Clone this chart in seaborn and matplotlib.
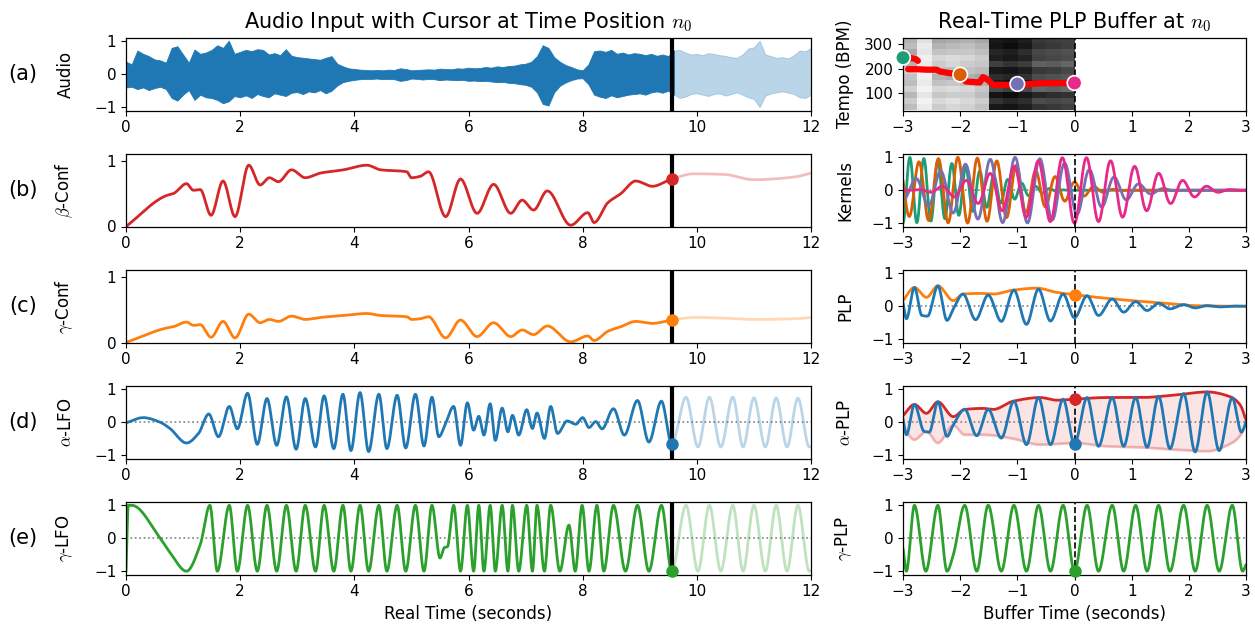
import numpy as np
import matplotlib
matplotlib.use("Agg")
import matplotlib.pyplot as plt
import seaborn as sns

# ---------------- data ----------------
n0 = 9.56  # cursor position (s)

audio_t = np.round(np.arange(0, 121) * 0.1, 2)
audio_upper = [0.38, 0.30, 0.72, 0.62, 0.55, 0.45, 0.42, 0.35, 0.80, 0.85,
               0.60, 0.35, 0.75, 0.62, 0.66, 0.74, 0.88, 0.80, 1.02, 0.62,
               0.68, 0.74, 0.70, 0.76, 0.74, 0.60, 0.64, 0.58, 0.76, 0.56,
               0.52, 0.50, 0.48, 0.46, 0.44, 0.50, 0.55, 0.32, 0.24, 0.18,
               0.16, 0.14, 0.13, 0.12, 0.13, 0.12, 0.14, 0.13, 0.18, 0.16,
               0.12, 0.13, 0.14, 0.15, 0.14, 0.17, 0.16, 0.15, 0.18, 0.17,
               0.20, 0.18, 0.19, 0.22, 0.20, 0.24, 0.22, 0.25, 0.26, 0.30,
               0.32, 0.38, 0.55, 0.88, 0.80, 0.52, 0.38, 0.28, 0.22, 0.15,
               0.12, 0.30, 0.70, 0.72, 0.68, 0.74, 0.62, 0.66, 0.60, 0.64,
               0.62, 0.58, 0.62, 0.56, 0.60, 0.55, 0.72, 0.74, 0.66, 0.60,
               0.62, 0.58, 0.64, 0.62, 0.58, 0.56, 0.52, 0.50, 0.60, 0.78,
               0.82, 1.02, 0.60, 0.55, 0.50, 0.52, 0.48, 0.58, 0.72, 0.70, 0.80]
audio_lower = [-0.40, -0.38, -0.45, -0.40, -0.48, -0.42, -0.38, -0.45, -0.72, -0.80,
               -0.62, -0.48, -0.78, -0.62, -0.70, -0.72, -0.78, -0.88, -0.82, -0.66,
               -0.70, -0.64, -0.72, -0.60, -0.66, -0.70, -0.58, -0.62, -0.66, -0.56,
               -0.54, -0.60, -0.52, -0.55, -0.48, -0.58, -0.50, -0.34, -0.24, -0.20,
               -0.17, -0.15, -0.14, -0.14, -0.13, -0.15, -0.14, -0.15, -0.20, -0.18,
               -0.13, -0.14, -0.16, -0.14, -0.15, -0.18, -0.16, -0.17, -0.18, -0.17,
               -0.20, -0.19, -0.21, -0.20, -0.22, -0.24, -0.23, -0.26, -0.27, -0.30,
               -0.32, -0.38, -0.55, -0.90, -0.95, -0.55, -0.35, -0.25, -0.18, -0.13,
               -0.12, -0.30, -0.62, -0.68, -0.72, -0.64, -0.70, -0.66, -0.62, -0.60,
               -0.58, -0.62, -0.55, -0.52, -0.56, -0.50, -0.62, -0.72, -0.68, -0.60,
               -0.58, -0.62, -0.66, -0.60, -0.58, -0.65, -0.60, -0.55, -0.62, -0.70,
               -0.75, -1.00, -0.65, -0.58, -0.55, -0.52, -0.56, -0.60, -0.70, -0.72, -0.62]

conf_t = [0, 0.71, 0.83, 1.06, 1.18, 1.3, 1.49, 1.7, 1.91, 2.15,
          2.35, 2.51, 2.67, 2.9, 3.14, 3.4, 3.81, 4.22, 4.46, 4.92,
          5.0, 5.15, 5.3, 5.6, 5.86, 6.15, 6.44, 6.74, 6.94, 7.14,
          7.38, 7.79, 8.09, 8.2, 8.44, 8.67, 8.93, 9.22, 9.56,
          9.95, 10.48, 11.0, 11.7, 12.0]
beta_conf = [0, 0.47, 0.5, 0.65, 0.55, 0.56, 0.17, 0.69, 0.15, 0.93,
             0.63, 0.74, 0.68, 0.86, 0.74, 0.81, 0.86, 0.93, 0.86, 0.83,
             0.74, 0.76, 0.83, 0.15, 0.72, 0.2, 0.64, 0.2, 0.4, 0.25,
             0.54, 0.02, 0.21, 0.06, 0.36, 0.5, 0.69, 0.61, 0.72,
             0.8, 0.79, 0.71, 0.75, 0.81]
gamma_conf = [0, 0.22, 0.24, 0.31, 0.26, 0.27, 0.08, 0.32, 0.07, 0.43,
              0.30, 0.35, 0.32, 0.40, 0.35, 0.38, 0.41, 0.44, 0.41, 0.39,
              0.35, 0.36, 0.39, 0.07, 0.34, 0.09, 0.30, 0.09, 0.19, 0.12,
              0.25, 0.01, 0.10, 0.03, 0.17, 0.24, 0.32, 0.29, 0.34,
              0.38, 0.37, 0.35, 0.36, 0.38]

alpha_lfo_t = [0, 0.3, 0.6, 0.77, 1.06, 1.27, 1.45, 1.62, 1.81, 1.95,
               2.13, 2.3, 2.47, 2.64, 2.81, 2.98, 3.14, 3.32, 3.47, 3.64,
               3.8, 3.94, 4.1, 4.25, 4.43, 4.57, 4.75, 4.9, 5.07, 5.22,
               5.36, 5.48, 5.6, 5.74, 5.86, 5.98, 6.09, 6.18, 6.27, 6.38,
               6.47, 6.59, 6.69, 6.77, 6.88, 7.02, 7.12, 7.2, 7.33, 7.44,
               7.56, 7.73, 7.88, 8.0, 8.11, 8.23, 8.34, 8.54, 8.73, 8.96,
               9.16, 9.38, 9.56,
               9.81, 10.02, 10.22, 10.42, 10.63, 10.81, 11.0, 11.2, 11.39, 11.58,
               11.77, 11.97, 12.0]
alpha_lfo = [-0.02, 0.14, 0.0, -0.19, -0.63, -0.34, 0.25, -0.44, 0.48, -0.2,
             0.88, -0.67, 0.72, -0.7, 0.77, -0.82, 0.72, -0.75, 0.8, -0.8,
             0.85, -0.86, 0.9, -0.89, 0.85, -0.8, 0.82, -0.78, 0.85, -0.72,
             0.76, -0.44, -0.03, 0.48, -0.7, 0.59, -0.24, 0.18, -0.39, 0.56,
             -0.55, 0.43, -0.29, 0.21, -0.39, 0.38, -0.19, 0.28, -0.49, 0.48,
             -0.34, 0.04, -0.06, 0.14, -0.16, 0.02, -0.2, 0.41, -0.39, 0.66,
             -0.6, 0.64, -0.66,
             0.76, -0.75, 0.76, -0.75, 0.76, -0.75, 0.74, -0.75, 0.74, -0.75,
             0.73, -0.75, -0.74]

gamma_lfo_t = [0, 0.04, 0.1, 0.6, 0.77, 1.06, 1.3, 1.47, 1.6, 1.81,
               1.95, 2.13, 2.3, 2.47, 2.64, 2.81, 2.98, 3.14, 3.32, 3.47,
               3.64, 3.8, 3.94, 4.1, 4.25, 4.43, 4.57, 4.75, 4.9, 5.07,
               5.22, 5.36, 5.5, 5.58, 5.63, 5.74, 5.86, 5.98, 6.09, 6.18,
               6.27, 6.38, 6.47, 6.59, 6.69, 6.77, 6.88, 7.02, 7.12, 7.2,
               7.33, 7.44, 7.6, 7.76, 7.87, 7.99, 8.11, 8.25, 8.37, 8.54,
               8.75, 8.96, 9.16, 9.38, 9.56,
               9.81, 10.02, 10.22, 10.42, 10.63, 10.81, 11.0, 11.2, 11.39, 11.58,
               11.77, 11.97, 12.0]
gamma_lfo = [-1, 1, 1, 0, -0.43, -1, -0.2, 1, -1, 1,
             -1, 1, -1, 1, -1, 1, -1, 1, -1, 1,
             -1, 1, -1, 1, -1, 1, -1, 1, -1, 1,
             -1, 1, -0.6, -0.28, -0.26, 1, -1, 1, -1, 1,
             -1, 1, -1, 1, -1, 1, -1, 1, -1, 1,
             -1, 1, -1, 0.4, -1, 1, -1, 1, -1, 1,
             -1, 1, -1, 1, -1,
             1, -1, 1, -1, 1, -1, 1, -1, 1, -1,
             1, -1, -0.98]

# tempogram buffer (darkness 0..1), rows: tempo bins low->high, cols: -3..0 s
tempogram = [
    [0.26, 0.08, 0.20, 0.16, 0.18, 0.24, 0.90, 0.92, 0.88, 0.80, 0.78, 0.75],
    [0.20, 0.05, 0.15, 0.12, 0.15, 0.20, 0.80, 0.85, 0.82, 0.70, 0.72, 0.70],
    [0.28, 0.10, 0.22, 0.20, 0.20, 0.26, 0.92, 0.95, 0.90, 0.85, 0.82, 0.80],
    [0.18, 0.05, 0.16, 0.14, 0.16, 0.22, 0.70, 0.75, 0.72, 0.60, 0.62, 0.58],
    [0.26, 0.08, 0.24, 0.22, 0.25, 0.30, 0.88, 0.92, 0.90, 0.78, 0.80, 0.76],
    [0.24, 0.06, 0.30, 0.33, 0.31, 0.35, 0.82, 0.85, 0.80, 0.70, 0.68, 0.66],
    [0.18, 0.05, 0.24, 0.26, 0.24, 0.27, 0.90, 0.92, 0.88, 0.78, 0.76, 0.72],
    [0.30, 0.08, 0.20, 0.16, 0.20, 0.22, 0.75, 0.80, 0.76, 0.62, 0.64, 0.60],
    [0.20, 0.06, 0.16, 0.14, 0.16, 0.20, 0.88, 0.90, 0.86, 0.74, 0.72, 0.70],
    [0.34, 0.10, 0.24, 0.22, 0.22, 0.25, 0.85, 0.88, 0.82, 0.72, 0.70, 0.68],
    [0.26, 0.08, 0.30, 0.27, 0.25, 0.30, 0.92, 0.95, 0.90, 0.80, 0.78, 0.75],
    [0.30, 0.12, 0.35, 0.33, 0.31, 0.35, 0.90, 0.92, 0.88, 0.78, 0.76, 0.74],
]
tempo_a_t = [-3.0, -2.95, -2.85, -2.78, -2.74]
tempo_a_v = [245, 240, 243, 240, 232]
tempo_b_t = [-2.91, -2.75, -2.59, -2.41, -2.36, -2.18, -2.0, -1.9, -1.66, -1.6,
             -1.52, -1.42, -1.2, -0.98, -0.6, -0.3, 0.0]
tempo_b_v = [198, 198, 196, 196, 189, 182, 176, 148, 144, 166,
             155, 134, 134, 134, 141, 141, 142]
tempo_dots = [245, 176, 138, 142]

kernel_center = [-3, -2, -1, 0]
kernel_bpm = [245, 176, 138, 142]
kernel_peak = [-2.88, -2.04, -1.04, 0.21]
kernel_colors = ["#1b9e77", "#d95f02", "#7570b3", "#e7298a"]

plp_env_t = [-3, -2.8, -2.59, -2.39, -2.12, -1.95, -1.66, -1.42, -1.07, -0.66,
             -0.31, 0, 0.56, 1.15, 1.73, 2.08, 2.5, 3]
plp_env = [0.17, 0.57, 0.27, 0.62, 0.17, 0.37, 0.39, 0.37, 0.49, 0.55,
           0.42, 0.35, 0.24, 0.15, 0.07, 0.02, 0.005, 0.0]
plp_t = [-3, -2.94, -2.8, -2.67, -2.57, -2.39, -2.23, -2.12, -1.95, -1.73,
         -1.51, -1.28, -1.06, -0.84, -0.63, -0.42, -0.2, 0, 0.22, 0.42,
         0.66, 0.86, 1.07, 1.27, 1.47, 1.67, 1.91, 2.11, 2.32, 2.55,
         2.8, 3.0]
plp = [0.1, -0.38, 0.57, -0.28, -0.3, 0.62, -0.43, -0.08, 0.37, -0.41,
       0.34, -0.46, 0.49, -0.55, 0.52, -0.45, 0.37, -0.35, 0.32, -0.28,
       0.22, -0.18, 0.14, -0.13, 0.09, -0.08, 0.05, -0.05, 0.02, -0.02,
       0.005, 0.0]

alpha_env_t = [-3, -2.8, -2.59, -2.39, -2.12, -1.92, -1.6, -1.42, -1.07, -0.6,
               -0.31, 0, 0.56, 1.15, 1.73, 2.32, 2.73, 2.9, 3.0]
alpha_env_up = [0.2, 0.54, 0.27, 0.62, 0.17, 0.39, 0.42, 0.39, 0.64, 0.75,
                0.67, 0.7, 0.75, 0.75, 0.82, 0.92, 0.77, 0.52, 0.07]
alpha_env_lo = [-0.15, -0.53, -0.28, -0.63, -0.1, -0.38, -0.38, -0.4, -0.5, -0.68,
                -0.66, -0.63, -0.73, -0.76, -0.83, -0.88, -0.65, -0.4, -0.03]
alpha_plp_t = [-3, -2.94, -2.8, -2.63, -2.54, -2.39, -2.23, -2.12, -1.92, -1.71,
               -1.51, -1.28, -1.06, -0.84, -0.63, -0.42, -0.2, 0, 0.22, 0.42,
               0.66, 0.86, 1.07, 1.27, 1.47, 1.67, 1.91, 2.11, 2.32, 2.53,
               2.76, 2.92, 3.0]
alpha_plp = [0.1, -0.38, 0.54, -0.28, -0.3, 0.62, -0.43, -0.08, 0.39, -0.41,
             0.39, -0.48, 0.64, -0.68, 0.75, -0.68, 0.7, -0.66, 0.75, -0.73,
             0.75, -0.73, 0.75, -0.76, 0.79, -0.8, 0.87, -0.9, 0.92, -0.86,
             0.74, -0.3, 0.0]
gamma_plp_t = [-3, -2.94, -2.8, -2.6, -2.39, -2.23, -2.12, -1.92, -1.71, -1.51,
               -1.28, -1.06, -0.84, -0.63, -0.42, -0.2, 0, 0.22, 0.42, 0.66,
               0.86, 1.07, 1.27, 1.47, 1.67, 1.91, 2.11, 2.32, 2.53, 2.76,
               2.94, 3.0]
gamma_plp = [-0.3, -1, 1, -1, 1, -1, -0.5, 1, -1, 1,
             -1, 1, -1, 1, -1, 1, -1, 1, -1, 1,
             -1, 1, -1, 1, -1, 1, -1, 1, -1, 1,
             -1, -0.8]

panel_labels = ["(a)", "(b)", "(c)", "(d)", "(e)"]
left_ylabels = ["Audio", r"$\beta$-Conf", r"$\gamma$-Conf", r"$\alpha$-LFO", r"$\gamma$-LFO"]
right_ylabels = ["Tempo (BPM)", "Kernels", "PLP", r"$\alpha$-PLP", r"$\gamma$-PLP"]

BLUE, ORANGE, GREEN, RED = "#1f77b4", "#ff7f0e", "#2ca02c", "#d62728"

# ---------------- helpers ----------------
def smooth(tk, vk, n=40):
    """monotone cubic (PCHIP) rendering through the read knots"""
    tk = np.asarray(tk, float); vk = np.asarray(vk, float)
    h = np.diff(tk); d = np.diff(vk) / h
    m = np.zeros_like(vk)
    m[0], m[-1] = d[0], d[-1]
    for k in range(1, len(vk) - 1):
        if d[k - 1] * d[k] > 0:
            w1 = 2 * h[k] + h[k - 1]; w2 = h[k] + 2 * h[k - 1]
            m[k] = (w1 + w2) / (w1 / d[k - 1] + w2 / d[k])
    ts, vs = [], []
    s = np.linspace(0, 1, n, endpoint=False)
    h00 = 2 * s**3 - 3 * s**2 + 1; h10 = s**3 - 2 * s**2 + s
    h01 = -2 * s**3 + 3 * s**2; h11 = s**3 - s**2
    for k in range(len(h)):
        ts.append(tk[k] + s * h[k])
        vs.append(h00 * vk[k] + h10 * h[k] * m[k] + h01 * vk[k + 1] + h11 * h[k] * m[k + 1])
    ts.append([tk[-1]]); vs.append([vk[-1]])
    return np.concatenate(ts), np.concatenate(vs)


def line(ax, x, y, color, lw=2.0, alpha=1.0, z=2):
    sns.lineplot(x=x, y=y, ax=ax, color=color, lw=lw, alpha=alpha,
                 estimator=None, sort=False, legend=False, zorder=z)


def split_line(ax, tk, vk, color):
    x, y = smooth(tk, vk)
    pre = x <= n0
    post = x >= n0
    line(ax, x[post], y[post], color, alpha=0.3)
    line(ax, x[pre], y[pre], color)


# ---------------- figure ----------------
sns.set_style("ticks")
plt.rcParams.update({
    "font.family": ["DejaVu Sans"],
    "mathtext.fontset": "cm",
    "axes.edgecolor": "black", "axes.linewidth": 0.9,
    "xtick.color": "black", "ytick.color": "black",
    "text.color": "black", "axes.labelcolor": "black",
    "xtick.labelsize": 11, "ytick.labelsize": 11,
    "xtick.major.size": 3.5, "ytick.major.size": 3.5,
    "axes.labelsize": 12,
})

W, H = 1255, 633
fig = plt.figure(figsize=(W / 100, H / 100), dpi=100)
row_top = [38, 154, 270, 386, 502]
row_h = 72.5

def rect(x0, x1, top):
    return [x0 / W, 1 - (top + row_h) / H, (x1 - x0) / W, row_h / H]

axL = [fig.add_axes(rect(126, 811, t)) for t in row_top]
axR = [fig.add_axes(rect(903, 1246, t)) for t in row_top]

# ---- left column ----
ta = np.asarray(audio_t); up = np.asarray(audio_upper); lo = np.asarray(audio_lower)
post = ta >= 9.5
pre = ta <= 9.6
axL[0].fill_between(ta[post], lo[post], up[post], color=BLUE, alpha=0.3, lw=0.6)
axL[0].fill_between(ta[pre], lo[pre], up[pre], color=BLUE, lw=0.6)
axL[0].set_ylim(-1.1, 1.1)
axL[0].set_yticks([-1, 0, 1])

split_line(axL[1], conf_t, beta_conf, RED)
axL[1].plot([n0], [0.72], "o", color=RED, ms=8, zorder=6)
axL[1].set_ylim(0, 1.1); axL[1].set_yticks([0, 1])

split_line(axL[2], conf_t, gamma_conf, ORANGE)
axL[2].plot([n0], [0.34], "o", color=ORANGE, ms=8, zorder=6)
axL[2].set_ylim(0, 1.1); axL[2].set_yticks([0, 1])

split_line(axL[3], alpha_lfo_t, alpha_lfo, BLUE)
axL[3].plot([n0], [-0.66], "o", color=BLUE, ms=8, zorder=6, clip_on=False)
split_line(axL[4], gamma_lfo_t, gamma_lfo, GREEN)
axL[4].plot([n0], [-1.0], "o", color=GREEN, ms=8, zorder=6, clip_on=False)
for ax in axL[3:]:
    ax.axhline(0, color="gray", ls=":", lw=1.2, zorder=1)
    ax.set_ylim(-1.1, 1.1); ax.set_yticks([-1, 0, 1])

for ax, lab, pl in zip(axL, left_ylabels, panel_labels):
    ax.set_xlim(0, 12)
    ax.set_xticks(range(0, 13, 2))
    ax.axvline(n0, color="black", lw=3, zorder=5)
    ax.set_ylabel(lab)
    ax.yaxis.set_label_coords(-0.074, 0.5)
    bb = ax.get_position()
    fig.text(23 / W, bb.y0 + bb.height / 2, pl, fontsize=15, ha="center", va="center")
    ax.set_xlabel("")
axL[0].set_title("Audio Input with Cursor at Time Position $n_0$", fontsize=15, pad=7)
axL[4].set_xlabel("Real Time (seconds)", fontsize=12)

# ---- right column ----
ax = axR[0]
ax.imshow(np.asarray(tempogram), origin="lower", extent=[-3, 0, 30, 325], aspect="auto",
          cmap="gray_r", vmin=0, vmax=1, interpolation="nearest", zorder=0)
line(ax, tempo_a_t, tempo_a_v, "red", lw=4.5, z=3)
line(ax, tempo_b_t, tempo_b_v, "red", lw=4.5, z=3)
sns.scatterplot(x=kernel_center, y=tempo_dots, hue=[0, 1, 2, 3], palette=kernel_colors,
                s=110, edgecolor="white", linewidth=1.2, ax=ax, legend=False,
                zorder=6, clip_on=False)
ax.set_ylim(30, 325); ax.set_yticks([100, 200, 300])

tk = np.linspace(-3, 3, 1801)
for c, bpm, pk, col in zip(kernel_center, kernel_bpm, kernel_peak, kernel_colors):
    dist = np.clip(np.abs(tk - c), 0, 3)
    win = np.cos(np.pi * dist / 6) ** 2
    line(axR[1], tk, win * np.cos(2 * np.pi * bpm / 60 * (tk - pk)), col)

x, y = smooth(plp_env_t, plp_env)
line(axR[2], x, y, ORANGE)
x, y = smooth(plp_t, plp)
line(axR[2], x, y, BLUE)
axR[2].plot([0], [0.35], "o", color=ORANGE, ms=8, zorder=6)

xu, yu = smooth(alpha_env_t, alpha_env_up)
xl, yl = smooth(alpha_env_t, alpha_env_lo)
axR[3].fill_between(xu, yl, yu, color=RED, alpha=0.12, lw=0)
line(axR[3], xl, yl, RED, alpha=0.3)
line(axR[3], xu, yu, RED)
x, y = smooth(alpha_plp_t, alpha_plp)
line(axR[3], x, y, BLUE)
axR[3].plot([0], [0.7], "o", color=RED, ms=8, zorder=6)
axR[3].plot([0], [-0.66], "o", color=BLUE, ms=8, zorder=6)

x, y = smooth(gamma_plp_t, gamma_plp)
line(axR[4], x, y, GREEN)
axR[4].plot([0], [-1.0], "o", color=GREEN, ms=8, zorder=6, clip_on=False)

for ax in axR[1:]:
    ax.axhline(0, color="gray", ls=":", lw=1.2, zorder=1)
    ax.set_ylim(-1.1, 1.1); ax.set_yticks([-1, 0, 1])

for ax, lab in zip(axR, right_ylabels):
    ax.set_xlim(-3, 3)
    ax.set_xticks(range(-3, 4))
    ax.axvline(0, color="black", lw=1.2, ls="--", zorder=5)
    ax.set_ylabel(lab)
    ax.yaxis.set_label_coords(-0.143, 0.5)
    ax.set_xlabel("")
axR[0].set_title("Real-Time PLP Buffer at $n_0$", fontsize=15, pad=7)
axR[4].set_xlabel("Buffer Time (seconds)", fontsize=12)

fig.savefig("out.png", dpi=100)
